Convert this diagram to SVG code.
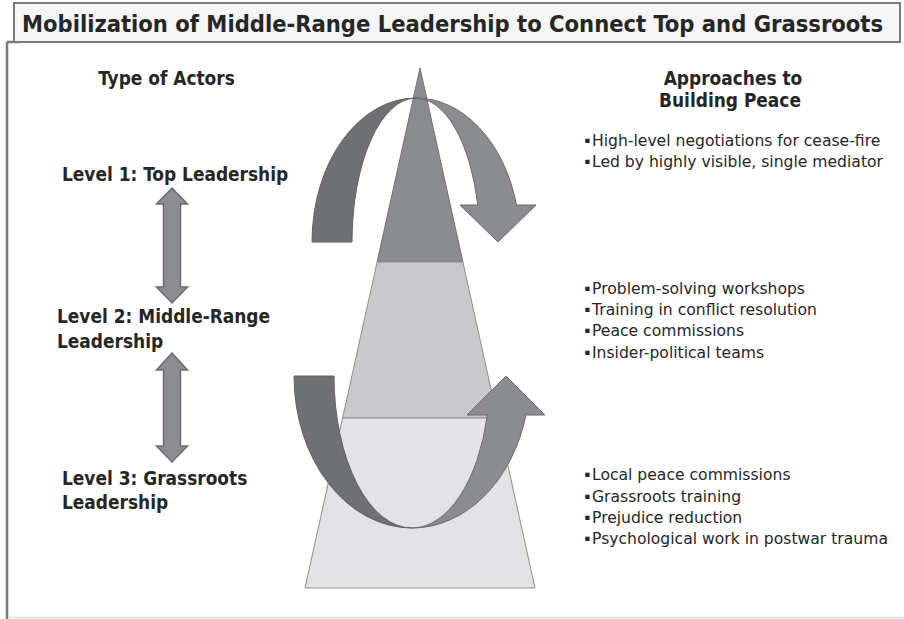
<svg xmlns="http://www.w3.org/2000/svg" width="904" height="619" viewBox="0 0 904 619">
<style>
  .t { font-family: 'DejaVu Sans Condensed', 'DejaVu Sans', sans-serif; font-stretch: condensed; fill: #262626; }
  .r { font-family: 'DejaVu Sans', sans-serif; fill: #262626; }
  .h { font-size: 18.9px; font-weight: bold; }
  .b { font-size: 15.6px; }
  .bul { font-size: 8.5px; }
  .ribD { fill: #6f7073; stroke: #5f6063; stroke-width: 1; }
  .ribL { fill: #8b8c8f; stroke: #6a6b6e; stroke-width: 1; }
  .dbl { fill: #8c8d90; stroke: #6a6b6e; stroke-width: 1.5; }
</style>
<rect x="0" y="0" width="904" height="619" fill="#ffffff"/>
<g id="frame">
  <line x1="7" y1="42" x2="7" y2="619" stroke="#7a7a7a" stroke-width="2.5"/>
  <line x1="7" y1="42" x2="20" y2="42" stroke="#7a7a7a" stroke-width="2.5"/>
  <line x1="8" y1="617.5" x2="904" y2="617.5" stroke="#dcdcdc" stroke-width="1.5"/>
</g>
<g id="title">
  <rect x="14" y="3" width="886" height="39" fill="#f6f6f6" stroke="#7a7a7a" stroke-width="2"/>
  <text class="t" x="22" y="32" font-size="23.5" font-weight="bold" fill="#222">Mobilization of Middle-Range Leadership to Connect Top and Grassroots</text>
</g>
<g id="pyramid">
  <polygon id="level1-band" points="420,68 377.1,262 462.9,262" fill="#8b8c8f" stroke="#707174" stroke-width="1"/>
  <polygon id="level2-band" points="377.1,262 462.9,262 497.4,418 342.6,418" fill="#c9c9cb" stroke="#8e8e90" stroke-width="1"/>
  <polygon id="level3-band" points="342.6,418 497.4,418 535,588 305,588" fill="#e3e3e5" stroke="#8e8e90" stroke-width="1"/>
</g>
<g id="connectors">
  <g id="top-curved-arrow">
    <path class="ribD" d="M312,242 A104,144 0 0 1 416,98 A64,144 0 0 0 352,242 Z"/>
    <path class="ribL" d="M416,98 A104,144 0 0 1 516.5,205 L536,205 L498,242 L460,205 L477.8,205 A64,144 0 0 0 416,98 Z"/>
  </g>
  <g id="bottom-curved-arrow">
    <path class="ribD" d="M294,376 A118,152 0 0 0 412,528 A78,152 0 0 1 334,376 Z"/>
    <path class="ribL" d="M412,528 A118,152 0 0 0 526,415 L545,415 L506,376 L467,415 L487.4,415 A78,152 0 0 1 412,528 Z"/>
  </g>
  <path id="arrow-1-2" class="dbl" d="M172,188 L187.5,204 L180.5,204 L180.5,287 L187.5,287 L172,303 L156.5,287 L163.5,287 L163.5,204 L156.5,204 Z"/>
  <path id="arrow-2-3" class="dbl" d="M172,353 L187.5,370 L180.5,370 L180.5,446 L187.5,446 L172,462 L156.5,446 L163.5,446 L163.5,370 L156.5,370 Z"/>
</g>
<g id="actors">
  <text class="t h" x="166.5" y="85" text-anchor="middle">Type of Actors</text>
  <g id="level1"><text class="t h" x="62" y="181">Level 1: Top Leadership</text></g>
  <g id="level2"><text class="t h" x="57" y="323">Level 2: Middle-Range</text><text class="t h" x="57" y="348">Leadership</text></g>
  <g id="level3"><text class="t h" x="62" y="485">Level 3: Grassroots</text><text class="t h" x="62" y="509">Leadership</text></g>
</g>
<g id="approaches">
  <text class="t h" x="733" y="85" text-anchor="middle">Approaches to</text>
  <text class="t h" x="730" y="107" text-anchor="middle">Building Peace</text>
  <g id="approach1">
    <text class="r b" y="145.5"><tspan class="bul" x="584.5" dy="-3">▪</tspan><tspan x="592" dy="3">High-level negotiations for cease-fire</tspan></text>
    <text class="r b" y="167"><tspan class="bul" x="584.5" dy="-3">▪</tspan><tspan x="592" dy="3">Led by highly visible, single mediator</tspan></text>
  </g>
  <g id="approach2">
    <text class="r b" y="293.5"><tspan class="bul" x="584.5" dy="-3">▪</tspan><tspan x="592" dy="3">Problem-solving workshops</tspan></text>
    <text class="r b" y="314.5"><tspan class="bul" x="584.5" dy="-3">▪</tspan><tspan x="592" dy="3">Training in conflict resolution</tspan></text>
    <text class="r b" y="336"><tspan class="bul" x="584.5" dy="-3">▪</tspan><tspan x="592" dy="3">Peace commissions</tspan></text>
    <text class="r b" y="357.5"><tspan class="bul" x="584.5" dy="-3">▪</tspan><tspan x="592" dy="3">Insider-political teams</tspan></text>
  </g>
  <g id="approach3">
    <text class="r b" y="480"><tspan class="bul" x="584.5" dy="-3">▪</tspan><tspan x="592" dy="3">Local peace commissions</tspan></text>
    <text class="r b" y="501.5"><tspan class="bul" x="584.5" dy="-3">▪</tspan><tspan x="592" dy="3">Grassroots training</tspan></text>
    <text class="r b" y="522.5"><tspan class="bul" x="584.5" dy="-3">▪</tspan><tspan x="592" dy="3">Prejudice reduction</tspan></text>
    <text class="r b" y="544"><tspan class="bul" x="584.5" dy="-3">▪</tspan><tspan x="592" dy="3">Psychological work in postwar trauma</tspan></text>
  </g>
</g>
</svg>
